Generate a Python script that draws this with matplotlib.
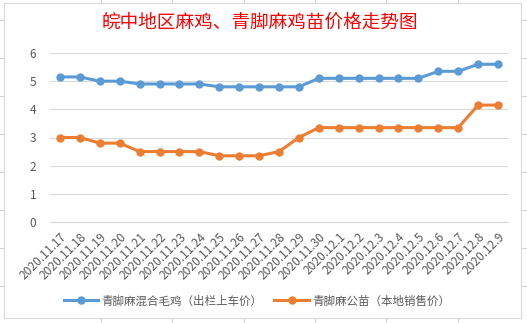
import matplotlib
matplotlib.use('Agg')
import matplotlib.pyplot as plt
from matplotlib.patches import Rectangle

plt.rcParams['font.family'] = ['Noto Sans CJK SC', 'DejaVu Sans']

# 数据
fechas = ['2020.11.17', '2020.11.18', '2020.11.19', '2020.11.20', '2020.11.21',
          '2020.11.22', '2020.11.23', '2020.11.24', '2020.11.25', '2020.11.26',
          '2020.11.27', '2020.11.28', '2020.11.29', '2020.11.30', '2020.12.1',
          '2020.12.2', '2020.12.3', '2020.12.4', '2020.12.5', '2020.12.6',
          '2020.12.7', '2020.12.8', '2020.12.9']
maoji = [5.15, 5.15, 5.0, 5.0, 4.9, 4.9, 4.9, 4.9, 4.8, 4.8, 4.8, 4.8, 4.8,
         5.1, 5.1, 5.1, 5.1, 5.1, 5.1, 5.35, 5.35, 5.6, 5.6]
gongmiao = [3.0, 3.0, 2.8, 2.8, 2.5, 2.5, 2.5, 2.5, 2.35, 2.35, 2.35, 2.5, 3.0,
            3.35, 3.35, 3.35, 3.35, 3.35, 3.35, 3.35, 3.35, 4.15, 4.15]

nombre1 = '青脚麻混合毛鸡（出栏上车价）'
nombre2 = '青脚麻公苗（本地销售价）'
titulo = '皖中地区麻鸡、青脚麻鸡苗价格走势图'

gris = '#595959'

fig = plt.figure(figsize=(5.27, 3.23), dpi=100)
W, H = 527, 323

# fondo tipo hoja de cálculo
for xv in [101, 172, 244, 315, 386, 458]:
    fig.add_artist(plt.Line2D([xv / W, xv / W], [0, 1], color='#d4d4d4', lw=0.8, zorder=-3))
for yv in [20, 58, 96, 134, 172, 210, 248, 286]:
    fig.add_artist(plt.Line2D([0, 1], [1 - yv / H, 1 - yv / H], color='#d4d4d4', lw=0.8, zorder=-3))
fig.add_artist(Rectangle((4 / W, 1 - 318 / H), 517 / W, 315 / H,
                         transform=fig.transFigure, facecolor='white',
                         edgecolor='#d9d9d9', lw=0.8, zorder=-2))

ax = fig.add_axes([50 / W, 1 - 222 / H, 458 / W, 169 / H])
ax.set_facecolor('none')
x = range(len(fechas))
ax.plot(x, maoji, '-o', color='#5B9BD5', lw=2.2, ms=5, label=nombre1)
ax.plot(x, gongmiao, '-o', color='#ED7D31', lw=2.2, ms=5, label=nombre2)

ax.set_xlim(-0.5, len(fechas) - 0.5)
ax.set_ylim(0, 6)
ax.set_yticks(range(0, 7))
ax.grid(axis='y', color='#d9d9d9', lw=0.8)
ax.set_axisbelow(True)
for s in ax.spines.values():
    s.set_visible(False)
ax.spines['bottom'].set_visible(True)
ax.spines['bottom'].set_color('#d9d9d9')
ax.tick_params(length=0, colors=gris, labelsize=8.5)
ax.tick_params(axis='y', pad=10)
ax.tick_params(axis='x', pad=6)
ax.set_xticks(list(x))
ax.set_xticklabels(fechas, rotation=45, ha='right', rotation_mode='anchor', fontsize=8.6)

fig.text(260 / W, 1 - 23 / H, titulo, color='red', fontsize=13.4,
         fontweight='medium', ha='center', va='center')

fig.legend(loc='center', bbox_to_anchor=(257 / W, 1 - 301 / H), ncol=2,
           frameon=False, fontsize=8.3, labelcolor=gris, handlelength=3,
           columnspacing=1.0, handletextpad=0.3)

fig.savefig('out.png', dpi=100)
